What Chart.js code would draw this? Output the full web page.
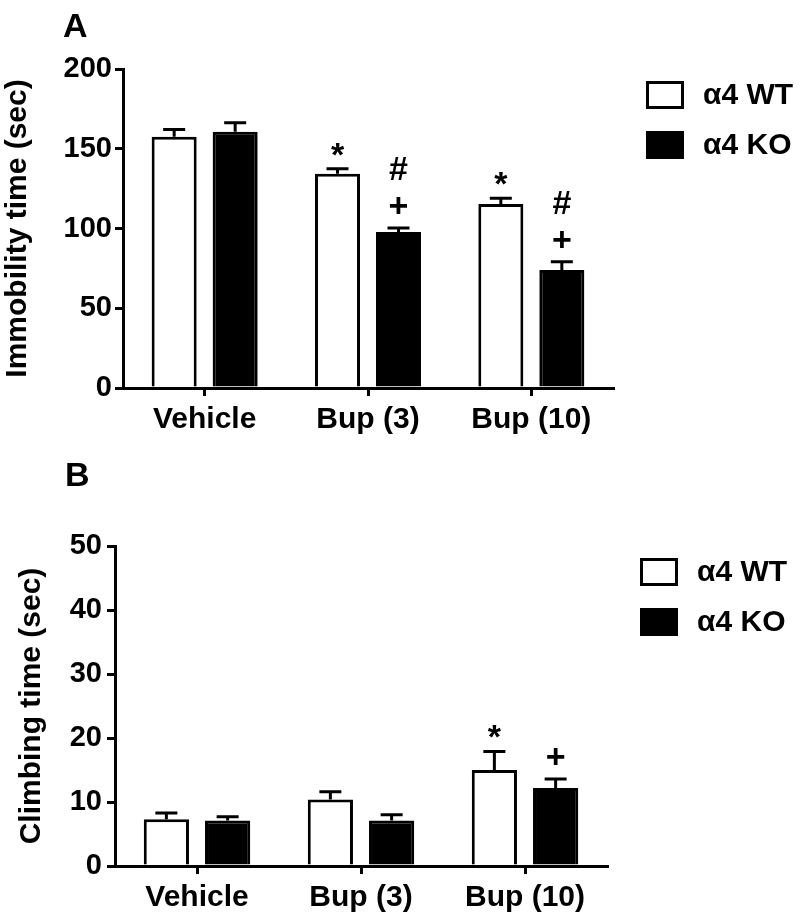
<!DOCTYPE html>
<html>
<head>
<meta charset="utf-8">
<script src="https://cdn.jsdelivr.net/npm/chart.js@4"></script>
<style>
  body { margin: 0; background: #fff; }
  #wrap { position: relative; width: 800px; height: 917px; }
  canvas { position: absolute; left: 0; }
  .tag { position: absolute; font: bold 34px "Liberation Sans", Arial, sans-serif; line-height: 34px; }
</style>
</head>
<body>
<div id="wrap">
  <canvas id="chartA" width="800" height="440" style="top:0"></canvas>
  <canvas id="chartB" width="800" height="477" style="top:440px"></canvas>
  <div class="tag" style="left:63px;top:8px">A</div>
  <div class="tag" style="left:65px;top:457px">B</div>
</div>
<script>
// === データ ===
const groups = ["Vehicle", "Bup (3)", "Bup (10)"];
const seriesNames = ["α4 WT", "α4 KO"];

// A: Immobility time
const immWT = [157.6, 134.4, 115.4];
const immWTErr = [4.5, 3.0, 3.5];
const immKO = [160.7, 97.8, 74.0];
const immKOErr = [5.6, 2.5, 5.2];
const immWTMarks = ["", "*", "*"];
const immKOMarks = ["", "+#", "+#"];   // 下から上へ
const immTicks = [0, 50, 100, 150, 200];

// B: Climbing time
const climbWT = [7.3, 10.4, 15.0];
const climbWTErr = [1.0, 1.2, 2.9];
const climbKO = [7.1, 7.1, 12.2];
const climbKOErr = [0.6, 0.9, 1.4];
const climbWTMarks = ["", "", "*"];
const climbKOMarks = ["", "", "+"];
const climbTicks = [0, 10, 20, 30, 40, 50];

// === 共通設定 ===
const FONT = '"Liberation Sans", Arial, sans-serif';
const SHIFT = { "*": 0.55, "#": 0.35, "+": 0.33 };  // グリフ中心→ベースライン

// === エラーバー・有意記号 ===
const errPlugin = {
  id: "errMarks",
  afterDatasetsDraw(chart) {
    const ctx = chart.ctx, y = chart.scales.y;
    chart.data.datasets.forEach((ds, di) => {
      chart.getDatasetMeta(di).data.forEach((bar, i) => {
        const top = y.getPixelForValue(ds.data[i] + ds.err[i]);
        ctx.save();
        ctx.strokeStyle = "#000";
        ctx.lineWidth = 3;
        ctx.beginPath();
        ctx.moveTo(bar.x, bar.y); ctx.lineTo(bar.x, top);
        ctx.moveTo(bar.x - 11, top); ctx.lineTo(bar.x + 11, top);
        ctx.stroke();
        ctx.fillStyle = "#000";
        ctx.font = `bold 34px ${FONT}`;
        ctx.textAlign = "center";
        ctx.textBaseline = "alphabetic";
        [...(ds.marks[i] || "")].forEach((m, k) => {
          const cy = top - 22 - k * 38;
          ctx.fillText(m, bar.x, cy + SHIFT[m] * 34);
        });
        ctx.restore();
      });
    });
  }
};

// === 凡例（右側） ===
const legendPlugin = {
  id: "sideLegend",
  afterDraw(chart) {
    const { ctx, chartArea: a } = chart;
    chart.data.datasets.forEach((ds, i) => {
      const x = a.right + 33, y = a.top + 12 + i * 50;
      ctx.save();
      ctx.fillStyle = ds.backgroundColor;
      ctx.fillRect(x, y, 38, 28);
      ctx.lineWidth = 3;
      ctx.strokeStyle = "#000";
      ctx.strokeRect(x + 1.5, y + 1.5, 35, 25);
      ctx.fillStyle = "#000";
      ctx.font = `bold 30px ${FONT}`;
      ctx.textAlign = "left";
      ctx.textBaseline = "middle";
      ctx.fillText(ds.label, x + 57, y + 15);
      ctx.restore();
    });
  }
};

// === グラフ生成 ===
function makeChart(id, p) {
  return new Chart(document.getElementById(id), {
    type: "bar",
    data: {
      labels: groups,
      datasets: [
        { label: seriesNames[0], data: p.wt, err: p.wtErr, marks: p.wtMarks,
          backgroundColor: "#fff", borderColor: "#000", borderWidth: 3 },
        { label: seriesNames[1], data: p.ko, err: p.koErr, marks: p.koMarks,
          backgroundColor: "#000", borderColor: "#000", borderWidth: 3 }
      ]
    },
    options: {
      responsive: false,
      animation: false,
      categoryPercentage: 0.747,
      barPercentage: 0.738,
      layout: { padding: { top: p.top, right: p.right, left: 0, bottom: 0 } },
      plugins: { legend: { display: false }, tooltip: { enabled: false } },
      scales: {
        x: {
          grid: { display: true, drawOnChartArea: false, offset: false, color: "#000", lineWidth: 3, tickLength: 8 },
          border: { color: "#000", width: 3 },
          ticks: { color: "#000", font: { family: FONT, size: 30, weight: "bold" }, padding: 6, maxRotation: 0, autoSkip: false },
          afterFit: s => { s.height = p.xh; }
        },
        y: {
          min: p.ticks[0], max: p.ticks[p.ticks.length - 1],
          afterBuildTicks: s => { s.ticks = p.ticks.map(v => ({ value: v })); },
          grid: { display: true, drawOnChartArea: false, color: "#000", lineWidth: 3, tickLength: 8 },
          border: { color: "#000", width: 3 },
          ticks: { color: "#000", font: { family: FONT, size: 29, weight: "bold" }, padding: p.tpad },
          title: { display: true, text: p.title, color: "#000",
                   font: { family: FONT, size: 30, weight: "bold" }, padding: { top: p.titlePad, bottom: 0 } },
          afterFit: s => { s.width = p.yw; }
        }
      }
    },
    plugins: [errPlugin, legendPlugin]
  });
}

makeChart("chartA", {
  wt: immWT, wtErr: immWTErr, wtMarks: immWTMarks,
  ko: immKO, koErr: immKOErr, koMarks: immKOMarks,
  ticks: immTicks, title: "Immobility time (sec)",
  top: 69, right: 187, xh: 52, yw: 123, tpad: 3, titlePad: 0
});

makeChart("chartB", {
  wt: climbWT, wtErr: climbWTErr, wtMarks: climbWTMarks,
  ko: climbKO, koErr: climbKOErr, koMarks: climbKOMarks,
  ticks: climbTicks, title: "Climbing time (sec)",
  top: 106, right: 193, xh: 51, yw: 115, tpad: 5, titlePad: 14
});
</script>
</body>
</html>
